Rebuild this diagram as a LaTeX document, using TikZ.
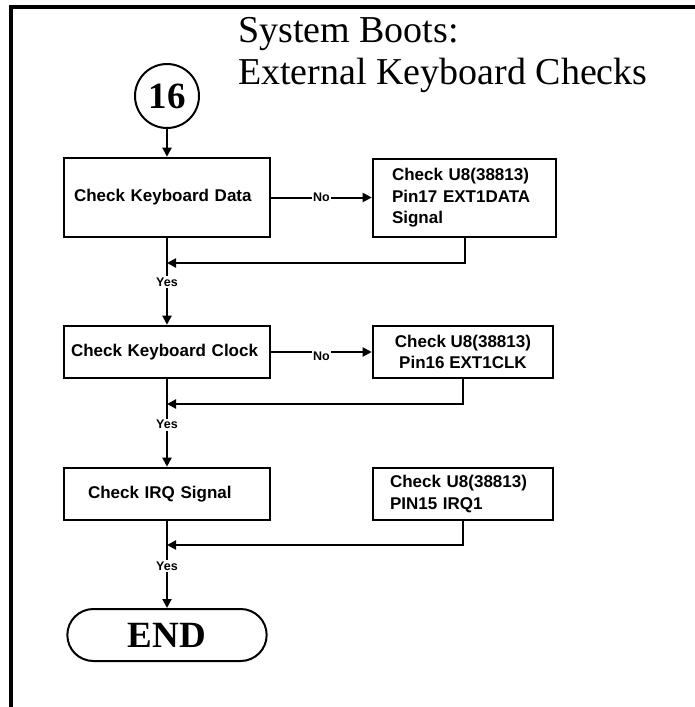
\documentclass[tikz,border=0pt]{standalone}
\usepackage{fontspec}
\setmainfont{Liberation Serif}
\setsansfont{Liberation Sans}
\usetikzlibrary{arrows.meta,shapes.misc}
\begin{document}
\begin{tikzpicture}[x=1pt,y=-1pt,
  box/.style={draw,line width=2.6pt,inner sep=0pt,align=left,
    font=\sffamily\bfseries\fontsize{17}{21.5}\selectfont},
  conn/.style={line width=2pt},
  arr/.style={conn,-{Triangle[length=9pt,width=9pt]}},
  lbl/.style={fill=white,inner sep=1.5pt,
    font=\sffamily\bfseries\fontsize{12.5}{14}\selectfont},
  ttl/.style={anchor=base west,inner sep=0pt,font=\fontsize{38}{42}\selectfont}]

\useasboundingbox (0,0) rectangle (695,707);
\draw[line width=4pt] (11,707) -- (11,7) -- (695,7);

\node[ttl] (t1) at (238,42) {System Boots:};
\node[ttl] (t2) at (238,84) {External Keyboard Checks};

\node[draw,circle,line width=2pt,minimum size=64pt,inner sep=0pt,
  font=\bfseries\fontsize{37}{40}\selectfont] (c16) at (167,96) {16};

\node[box,minimum width=206pt,minimum height=79pt,text width=186pt] (b1) at (167,197.5) {Check Keyboard Data};
\node[box,minimum width=183pt,minimum height=78pt,text width=145pt] (b2) at (464.5,198) {Check U8(38813)\\Pin17 EXT1DATA\\Signal};

\node[box,minimum width=206pt,minimum height=52pt,text width=192pt] (b3) at (167,352) {Check Keyboard Clock};
\node[box,minimum width=180pt,minimum height=52pt,align=center] (b4) at (463,352) {Check U8(38813)\\Pin16 EXT1CLK};

\node[box,minimum width=206pt,minimum height=52pt,text width=158pt] (b5) at (167,494) {Check IRQ Signal};
\node[box,minimum width=180pt,minimum height=52pt,text width=146pt] (b6) at (463,494) {Check U8(38813)\\PIN15 IRQ1};

\node[draw,rounded rectangle,line width=2pt,minimum width=206pt,minimum height=52pt,
  font=\bfseries\fontsize{37}{40}\selectfont] (end) at (167,635) {END};

\coordinate (j1) at (167,263);
\coordinate (j2) at (167,404);
\coordinate (j3) at (167,545);

\draw[arr] (c16) -- (b1);
\draw[arr] (b1.east) -- node[lbl]{No} (b1.east -| b2.west);
\draw[arr] (b2.south) |- (j1);
\draw[arr] (b1.south) -- node[lbl,pos=0.505]{Yes} (b3.north);

\draw[arr] (b3.east) -- node[lbl,yshift=-4pt]{No} (b3.east -| b4.west);
\draw[arr] (b4.south) |- (j2);
\draw[arr] (b3.south) -- node[lbl,pos=0.52]{Yes} (b5.north);

\draw[arr] (b6.south) |- (j3);
\draw[arr] (b5.south) -- node[lbl,pos=0.517]{Yes} (end.north);
\end{tikzpicture}
\end{document}
